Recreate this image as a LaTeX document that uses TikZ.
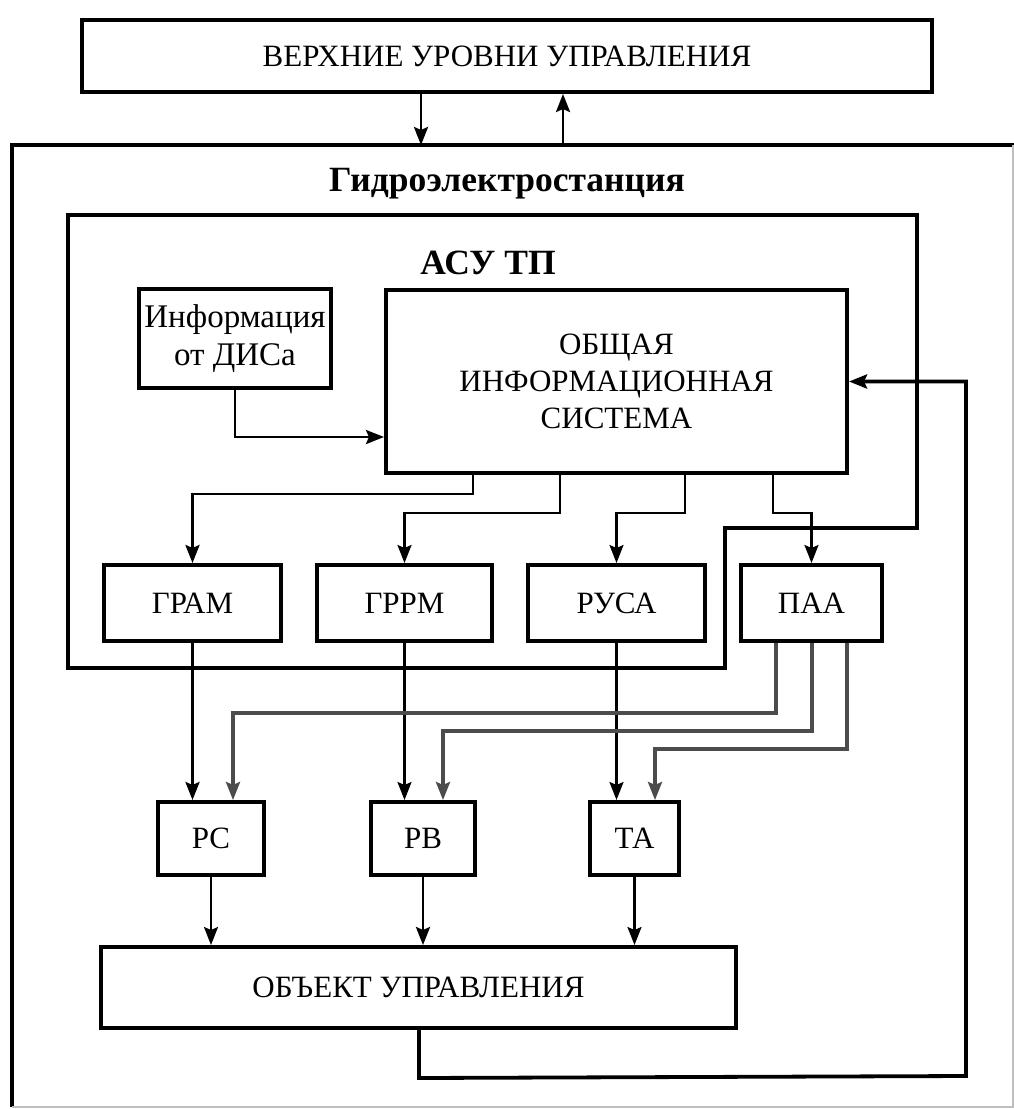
\documentclass[tikz,border=0pt]{standalone}
\usepackage{fontspec}
\setmainfont{Liberation Serif}
\usetikzlibrary{arrows.meta}
\tikzset{
  box/.style={draw, line width=4pt, inner sep=0pt, align=center, font=\fontsize{31}{37}\selectfont},
  arr/.style={line width=2.8pt, -{Stealth[length=18pt,width=14pt,inset=3pt]}},
  thinarr/.style={line width=2.2pt, -{Stealth[length=18pt,width=14pt,inset=3pt]}},
  grayarr/.style={line width=3.4pt, draw=black!70, -{Stealth[length=18pt,width=14pt,inset=3pt]}},
  frame/.style={line width=4.5pt},
  title/.style={font=\bfseries\fontsize{35.5}{40}\selectfont},
}
\begin{document}
\begin{tikzpicture}[x=1pt,y=-1pt]
\useasboundingbox (0,0) rectangle (1014,1109);
\fill[white] (0,0) rectangle (1014,1109);
% outer station box
\draw[frame] (1014,145) -- (12,145) -- (12,1107);
\draw[black!25, line width=1.5pt] (1013,145) -- (1013,1107) -- (12,1107);
% ASU TP region
\draw[frame] (68,215) -- (917,215) -- (917,528) -- (725,528) -- (725,668) -- (68,668) -- cycle;
% nodes
\node[box, minimum width=850pt, minimum height=72pt] (top) at (507,56) {ВЕРХНИЕ УРОВНИ УПРАВЛЕНИЯ};
\node[title] (ges) at (507,184) {Гидроэлектростанция};
\node[title] (asu) at (488,263) {АСУ ТП};
\node[box, minimum width=192pt, minimum height=99pt, font=\fontsize{33}{38}\selectfont] (info) at (235,338.5) {Информация\\от ДИСа};
\node[box, minimum width=461pt, minimum height=183pt] (ois) at (616.5,381.5) {ОБЩАЯ\\ИНФОРМАЦИОННАЯ\\СИСТЕМА};
\node[box, minimum width=177pt, minimum height=76pt] (gram) at (192.5,603) {ГРАМ};
\node[box, minimum width=175pt, minimum height=76pt] (grrm) at (404.5,603) {ГРРМ};
\node[box, minimum width=177pt, minimum height=76pt] (rusa) at (616.5,603) {РУСА};
\node[box, minimum width=141pt, minimum height=76pt] (paa) at (811.5,603) {ПАА};
\node[box, minimum width=106pt, minimum height=73pt] (pc) at (211,838.5) {РС};
\node[box, minimum width=104pt, minimum height=73pt] (pb) at (423,838.5) {РВ};
\node[box, minimum width=89pt, minimum height=73pt] (ta) at (634.5,838.5) {ТА};
\node[box, minimum width=635pt, minimum height=81pt] (obj) at (418.5,987.5) {ОБЪЕКТ УПРАВЛЕНИЯ};
% helper coordinates
\coordinate (gtop) at (0,145);
\coordinate (x1) at (421,0);
\coordinate (x2) at (563,0);
\coordinate (yinfo) at (0,437);
\coordinate (o1) at (473,0);
\coordinate (o2) at (560,0);
\coordinate (o3) at (685,0);
\coordinate (o4) at (773,0);
\coordinate (p1) at (776,0);
\coordinate (p2) at (812,0);
\coordinate (p3) at (847,0);
\coordinate (d1) at (233,0);
\coordinate (d2) at (443,0);
\coordinate (d3) at (655,0);
\coordinate (fb) at (419,0);
% top arrows
\draw[arr] (top.south -| x1) -- (gtop -| x1);
\draw[arr] (gtop -| x2) -- (top.south -| x2);
% info to OIS
\draw[arr] (info.south) |- (ois.west |- yinfo);
% OIS to second row
\draw[arr] (ois.south -| o1) -- ++(0,19) -| (gram.north);
\draw[thinarr] (ois.south -| o2) -- ++(0,38) -| (grrm.north);
\draw[thinarr] (ois.south -| o3) -- ++(0,38) -| (rusa.north);
\draw[thinarr] (ois.south -| o4) -- ++(0,38) -| (paa.north);
% second row to actuators
\draw[arr] (gram.south) -- (gram.south |- pc.north);
\draw[thinarr] (grrm.south) -- (grrm.south |- pb.north);
\draw[thinarr] (rusa.south) -- (rusa.south |- ta.north);
% PAA outputs
\draw[grayarr] (paa.south -| p1) -- ++(0,70) -| (pc.north -| d1);
\draw[grayarr] (paa.south -| p2) -- ++(0,88) -| (pb.north -| d2);
\draw[grayarr] (paa.south -| p3) -- ++(0,106) -| (ta.north -| d3);
% actuators to object
\draw[thinarr] (pc.south) -- (pc.south |- obj.north);
\draw[arr] (pb.south) -- (pb.south |- obj.north);
\draw[thinarr] (ta.south) -- (ta.south |- obj.north);
% feedback
\draw[arr, line width=3.8pt] (obj.south -| fb) -- ++(0,48) -- (966,1076) |- (ois.east);
\end{tikzpicture}
\end{document}
